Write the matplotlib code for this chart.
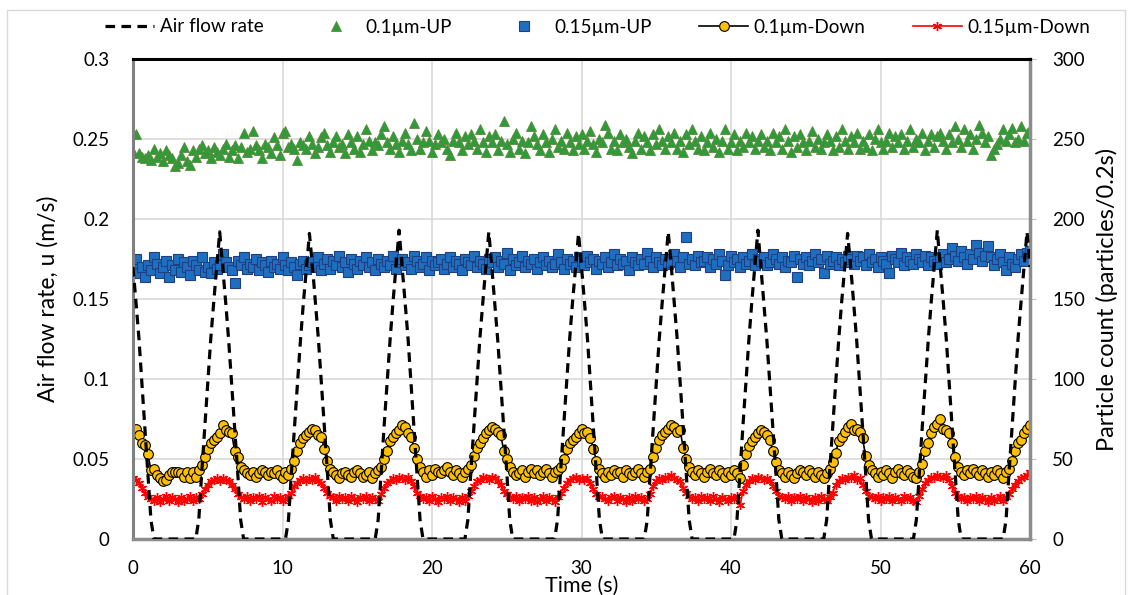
import numpy as np
import matplotlib
matplotlib.use("Agg")
import matplotlib.pyplot as plt
from matplotlib.patches import Rectangle

plt.rcParams['font.family'] = ['Lato', 'DejaVu Sans']

# time axis (s), sampled every 0.2 s
time_s = np.round(np.arange(301) * 0.2, 1)

air_flow = [
    0.170, 0.148, 0.125, 0.097, 0.070, 0.042, 0.012, 0, 0, 0, 0, 0, 0, 0, 0, 0, 0, 0, 0, 0, 0, 0, 0.012, 0.042, 0.070, 0.097, 0.125, 0.148, 0.170, 0.192,
    0.170, 0.148, 0.124, 0.097, 0.070, 0.042, 0.012, 0, 0, 0, 0, 0, 0, 0, 0, 0, 0, 0, 0, 0, 0, 0, 0.012, 0.042, 0.070, 0.097, 0.124, 0.148, 0.169, 0.191,
    0.171, 0.148, 0.125, 0.098, 0.070, 0.042, 0.012, 0, 0, 0, 0, 0, 0, 0, 0, 0, 0, 0, 0, 0, 0, 0, 0.012, 0.042, 0.071, 0.098, 0.125, 0.149, 0.171, 0.193,
    0.170, 0.148, 0.125, 0.097, 0.070, 0.042, 0.012, 0, 0, 0, 0, 0, 0, 0, 0, 0, 0, 0, 0, 0, 0, 0, 0.012, 0.042, 0.070, 0.097, 0.125, 0.148, 0.170, 0.192,
    0.170, 0.147, 0.124, 0.097, 0.069, 0.042, 0.012, 0, 0, 0, 0, 0, 0, 0, 0, 0, 0, 0, 0, 0, 0, 0, 0.012, 0.042, 0.070, 0.097, 0.124, 0.148, 0.169, 0.191,
    0.170, 0.148, 0.125, 0.097, 0.070, 0.042, 0.012, 0, 0, 0, 0, 0, 0, 0, 0, 0, 0, 0, 0, 0, 0, 0, 0.012, 0.042, 0.070, 0.097, 0.125, 0.148, 0.170, 0.192,
    0.171, 0.148, 0.125, 0.098, 0.070, 0.042, 0.012, 0, 0, 0, 0, 0, 0, 0, 0, 0, 0, 0, 0, 0, 0, 0, 0.012, 0.042, 0.071, 0.098, 0.125, 0.149, 0.171, 0.193,
    0.170, 0.147, 0.124, 0.097, 0.069, 0.042, 0.012, 0, 0, 0, 0, 0, 0, 0, 0, 0, 0, 0, 0, 0, 0, 0, 0.012, 0.042, 0.070, 0.097, 0.124, 0.148, 0.169, 0.191,
    0.171, 0.148, 0.125, 0.098, 0.070, 0.042, 0.012, 0, 0, 0, 0, 0, 0, 0, 0, 0, 0, 0, 0, 0, 0, 0, 0.012, 0.042, 0.071, 0.098, 0.125, 0.149, 0.171, 0.193,
    0.170, 0.148, 0.125, 0.097, 0.070, 0.042, 0.012, 0, 0, 0, 0, 0, 0, 0, 0, 0, 0, 0, 0, 0, 0, 0, 0.012, 0.042, 0.070, 0.097, 0.125, 0.148, 0.170, 0.192,
    0.170,
]

up_01 = [
    242, 253, 241, 239, 238, 240, 237, 244, 239, 241, 236, 243, 240, 238, 233, 235, 240, 245, 236, 234, 243, 239, 244, 246, 241, 243, 238, 245, 242, 240,
    244, 247, 239, 243, 246, 238, 245, 254, 242, 244, 255, 246, 243, 238, 247, 245, 241, 251, 246, 240, 254, 255, 245, 247, 244, 237, 248, 246, 244, 252,
    247, 241, 245, 251, 254, 246, 242, 248, 252, 245, 247, 241, 253, 248, 244, 252, 242, 247, 256, 249, 243, 248, 246, 253, 258, 248, 244, 252, 247, 242,
    249, 254, 247, 243, 260, 250, 244, 248, 255, 249, 242, 247, 253, 248, 250, 244, 240, 249, 254, 248, 243, 252, 247, 253, 249, 244, 256, 248, 242, 252,
    248, 253, 243, 249, 261, 247, 242, 250, 254, 244, 249, 241, 248, 258, 252, 247, 243, 253, 248, 242, 250, 256, 245, 249, 244, 254, 248, 243, 252, 247,
    253, 244, 249, 255, 247, 242, 250, 248, 259, 254, 244, 249, 243, 253, 248, 250, 245, 241, 249, 254, 244, 252, 248, 243, 253, 247, 256, 249, 244, 252,
    248, 254, 244, 249, 242, 253, 247, 256, 249, 244, 252, 243, 248, 254, 245, 250, 242, 249, 256, 244, 248, 253, 243, 249, 245, 254, 248, 252, 244, 249,
    253, 245, 249, 243, 254, 248, 252, 244, 256, 249, 242, 252, 245, 253, 248, 243, 249, 255, 245, 250, 244, 248, 253, 249, 243, 252, 245, 256, 249, 244,
    252, 248, 254, 244, 249, 245, 253, 243, 250, 256, 248, 244, 249, 254, 245, 252, 248, 253, 244, 249, 256, 245, 250, 248, 254, 243, 249, 253, 245, 252,
    254, 249, 244, 253, 248, 258, 250, 245, 256, 249, 253, 244, 250, 259, 254, 248, 252, 240, 244, 247, 250, 256, 249, 253, 257, 248, 250, 258, 249, 254,
    256,
]

up_015 = [
    172, 175, 166, 170, 164, 171, 168, 176, 172, 166, 170, 174, 164, 171, 168, 175, 167, 173, 170, 165, 174, 171, 168, 176, 167, 170, 166, 173, 169, 171,
    178, 173, 170, 168, 160, 174, 171, 176, 169, 172, 170, 175, 168, 173, 171, 167, 174, 170, 172, 169, 176, 171, 168, 173, 170, 165, 172, 174, 169, 171,
    173, 170, 176, 168, 172, 175, 169, 174, 171, 177, 170, 173, 167, 175, 172, 169, 174, 171, 176, 170, 173, 168, 175, 172, 170, 174, 171, 177, 169, 173,
    175, 171, 173, 169, 177, 174, 170, 172, 176, 168, 174, 171, 173, 175, 169, 172, 176, 170, 174, 172, 168, 175, 173, 171, 177, 170, 174, 172, 169, 175,
    173, 176, 170, 174, 172, 179, 168, 175, 171, 173, 177, 170, 174, 172, 175, 169, 173, 176, 171, 174, 170, 172, 178, 173, 169, 175, 172, 174, 170, 176,
    174, 171, 177, 173, 175, 169, 174, 172, 176, 170, 173, 178, 171, 175, 172, 174, 168, 176, 173, 171, 175, 172, 179, 174, 170, 176, 173, 171, 175, 172,
    173, 178, 174, 170, 176, 189, 172, 175, 171, 177, 173, 174, 176, 170, 175, 172, 178, 174, 165, 171, 177, 173, 175, 170, 176, 172, 174, 178, 171, 175,
    174, 176, 171, 173, 178, 175, 172, 176, 170, 174, 173, 177, 164, 175, 172, 176, 171, 174, 178, 173, 175, 166, 177, 172, 174, 176, 171, 175, 173, 177,
    175, 172, 177, 174, 176, 171, 178, 173, 175, 170, 176, 174, 172, 166, 177, 175, 173, 179, 171, 176, 174, 172, 178, 175, 173, 177, 171, 176, 174, 172,
    176, 178, 173, 175, 182, 177, 174, 180, 176, 172, 178, 175, 184, 179, 174, 177, 183, 176, 171, 175, 178, 173, 168, 176, 172, 170, 175, 178, 174, 179,
    180,
]

down_01 = [
    67, 69, 65, 60, 59, 53, 43, 44, 40, 38, 36, 37, 40, 42, 42, 42, 41, 39, 42, 38, 42, 39, 43, 46, 51, 56, 60, 62, 64, 66,
    71, 68, 67, 66, 55, 51, 45, 43, 41, 40, 42, 39, 41, 43, 42, 40, 42, 41, 43, 40, 38, 42, 40, 44, 49, 55, 60, 63, 65, 67,
    69, 68, 65, 64, 56, 49, 44, 42, 40, 38, 41, 42, 40, 39, 42, 43, 41, 39, 40, 42, 38, 41, 43, 45, 50, 55, 61, 64, 66, 68,
    71, 70, 66, 64, 57, 50, 45, 42, 39, 43, 40, 44, 42, 41, 43, 45, 42, 40, 43, 41, 39, 42, 44, 46, 52, 57, 60, 63, 66, 68,
    70, 69, 67, 65, 55, 50, 45, 42, 40, 41, 43, 39, 42, 44, 41, 43, 40, 42, 44, 41, 39, 42, 43, 45, 50, 56, 60, 62, 64, 66,
    69, 66, 67, 63, 56, 49, 44, 41, 39, 42, 40, 43, 41, 42, 39, 43, 41, 40, 42, 44, 41, 39, 42, 44, 51, 57, 62, 65, 67, 69,
    71, 70, 67, 68, 57, 50, 45, 42, 40, 43, 41, 39, 42, 44, 41, 40, 43, 41, 39, 42, 40, 43, 41, 38, 46, 53, 58, 61, 64, 66,
    68, 67, 65, 62, 55, 48, 43, 41, 39, 42, 40, 38, 41, 43, 42, 40, 43, 41, 39, 42, 40, 38, 41, 44, 48, 54, 61, 64, 67, 70,
    72, 68, 69, 67, 63, 52, 46, 43, 41, 39, 42, 40, 43, 41, 38, 42, 44, 41, 40, 43, 41, 39, 38, 42, 47, 55, 60, 66, 70, 72,
    75, 69, 68, 66, 60, 51, 45, 42, 40, 43, 41, 44, 42, 40, 43, 41, 39, 42, 40, 43, 41, 38, 42, 44, 49, 55, 60, 62, 66, 69,
    71,
]

down_015 = [
    38, 37, 35, 32, 29, 26, 25, 24, 26, 23, 25, 27, 24, 26, 25, 23, 26, 24, 25, 27, 24, 26, 25, 28, 31, 34, 36, 37, 38, 36,
    38, 37, 36, 34, 31, 28, 26, 25, 27, 24, 26, 25, 27, 23, 26, 25, 24, 27, 25, 26, 24, 25, 27, 29, 33, 35, 37, 38, 36, 38,
    37, 39, 36, 35, 32, 29, 27, 26, 24, 27, 25, 26, 24, 27, 25, 23, 26, 25, 27, 24, 26, 25, 24, 28, 32, 35, 36, 38, 37, 39,
    38, 37, 39, 36, 33, 29, 27, 25, 26, 24, 27, 25, 23, 26, 25, 27, 24, 26, 25, 23, 26, 24, 27, 30, 33, 36, 37, 39, 38, 37,
    39, 38, 36, 34, 30, 28, 26, 25, 27, 24, 26, 25, 27, 24, 26, 23, 25, 27, 24, 26, 25, 23, 26, 29, 32, 35, 37, 38, 39, 37,
    38, 37, 38, 35, 31, 28, 26, 27, 25, 24, 26, 27, 24, 26, 25, 23, 26, 24, 27, 25, 26, 24, 25, 28, 33, 36, 38, 37, 39, 38,
    40, 38, 37, 36, 32, 29, 27, 25, 26, 24, 27, 25, 26, 24, 27, 25, 23, 26, 25, 24, 26, 25, 27, 21, 30, 34, 36, 38, 37, 39,
    38, 37, 38, 36, 33, 30, 27, 26, 25, 27, 24, 26, 25, 27, 24, 26, 25, 23, 26, 24, 27, 25, 24, 26, 29, 34, 36, 38, 37, 39,
    38, 40, 37, 38, 34, 30, 27, 26, 25, 27, 24, 26, 25, 27, 24, 26, 25, 24, 27, 25, 26, 24, 23, 27, 31, 35, 37, 39, 38, 40,
    39, 38, 40, 37, 33, 29, 27, 25, 26, 24, 26, 25, 27, 24, 26, 25, 23, 26, 24, 25, 27, 24, 26, 28, 31, 34, 36, 38, 39, 40,
    42,
]

left_ticks = [0, 0.05, 0.1, 0.15, 0.2, 0.25, 0.3]
left_labels = ["0", "0.05", "0.1", "0.15", "0.2", "0.25", "0.3"]
right_ticks = [0, 50, 100, 150, 200, 250, 300]
x_ticks = [0, 10, 20, 30, 40, 50, 60]

W, H = 1128, 595
fig = plt.figure(figsize=(W / 100, H / 100), dpi=100)
ax2 = fig.add_axes([133 / W, 1 - 539 / H, (1030 - 133) / W, (539 - 59) / H])
ax = ax2.twinx()  # flow axis drawn on top
ax.yaxis.tick_left()
ax.yaxis.set_label_position("left")
ax2.yaxis.tick_right()
ax2.yaxis.set_label_position("right")

FS_TICK = 13.5
FS_LEG = 13.6
FS_LAB = 15.5

# particle series
ax2.plot(time_s, up_01, linestyle='none', marker='^', markersize=7.5,
         markerfacecolor='#2E9B3A', markeredgecolor='#5A8A3A', markeredgewidth=0.6,
         label='0.1\u00b5m-UP', zorder=3)
ax2.plot(time_s, up_015, linestyle='none', marker='s', markersize=7,
         markerfacecolor='#1F6FC0', markeredgecolor='#1F3F80', markeredgewidth=0.8,
         label='0.15\u00b5m-UP', zorder=3)
ax2.plot(time_s, down_01, color='black', linewidth=1.2, marker='o', markersize=7,
         markerfacecolor='#FFC000', markeredgecolor='black', markeredgewidth=0.8,
         label='0.1\u00b5m-Down', zorder=4)
ax2.plot(time_s, down_015, color='#FF0000', linewidth=1.2, marker=(6, 2, 0), markersize=6.5,
         markeredgecolor='#FF0000', markeredgewidth=1.0,
         label='0.15\u00b5m-Down', zorder=4)

ax.plot(time_s, air_flow, color='black', linestyle=(0, (3, 2)), linewidth=2.3,
        label='Air flow rate', zorder=5)

ax.set_xlim(0, 60)
ax.set_ylim(0, 0.3)
ax2.set_ylim(0, 300)
ax2.set_xlim(0, 60)
ax.set_yticks(left_ticks)
ax.set_yticklabels(left_labels)
ax2.set_yticks(right_ticks)
ax2.set_xticks(x_ticks)

ax2.grid(True, color='#D9D9D9', linewidth=1.2)
ax2.set_axisbelow(True)

ax.tick_params(axis='y', length=0, labelsize=FS_TICK, pad=17)
ax2.tick_params(axis='y', length=4, color='#BFBFBF', labelsize=FS_TICK, pad=12)
ax2.tick_params(axis='x', length=0, labelsize=FS_TICK, pad=15)
ax.tick_params(axis='x', length=0)

for a in (ax, ax2):
    for s in a.spines.values():
        s.set_visible(False)
ax.spines['top'].set_visible(True)
ax.spines['top'].set_color('black')
ax.spines['top'].set_linewidth(2.2)
ax.spines['left'].set_visible(True)
ax.spines['left'].set_color('#808080')
ax.spines['left'].set_linewidth(2.2)
ax.spines['bottom'].set_visible(True)
ax.spines['bottom'].set_color('#8C8C8C')
ax.spines['bottom'].set_linewidth(2.5)
ax.spines['right'].set_visible(True)
ax.spines['right'].set_color('#8C8C8C')
ax.spines['right'].set_linewidth(2.5)

ax.set_ylabel('Air flow rate, u (m/s)', fontsize=FS_LAB + 1, labelpad=10)
ax2.set_ylabel('Particle count (particles/0.2s)', fontsize=FS_LAB + 1.5, labelpad=8)
ax2.set_xlabel('Time (s)', fontsize=FS_LAB, labelpad=-1)

h1, l1 = ax.get_legend_handles_labels()
h2, l2 = ax2.get_legend_handles_labels()
fig.legend(h1 + h2, l1 + l2, loc='center', bbox_to_anchor=(0.53, 1 - 27 / H),
           ncol=5, frameon=False, fontsize=FS_LEG, handlelength=2.6,
           columnspacing=2.5, handletextpad=0.3)

fig.patches.append(Rectangle((7 / W, -0.01), 1 - 10 / W, 1 - 10 / H + 0.01,
                             transform=fig.transFigure, fill=False,
                             edgecolor='#D9D9D9', linewidth=1.0))

fig.savefig('out.png', dpi=100)
